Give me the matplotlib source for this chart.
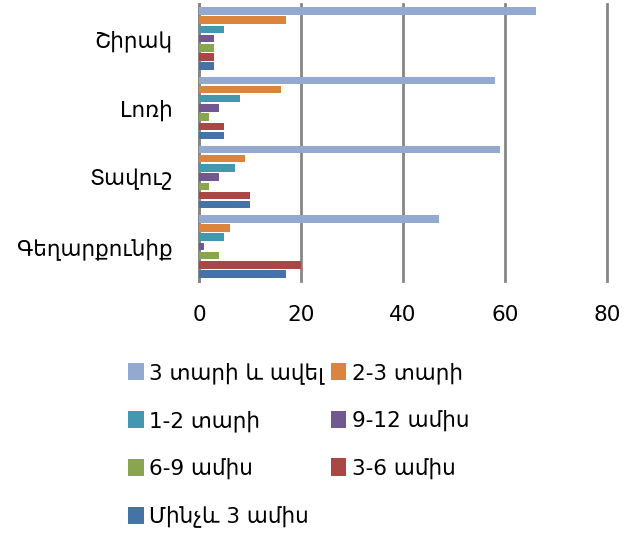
import matplotlib
matplotlib.use("Agg")
import matplotlib.pyplot as plt
import numpy as np
from matplotlib.patches import Patch

plt.rcParams['font.family'] = ['DejaVu Sans']

categories = ["Շիրակ", "Լոռի", "Տավուշ", "Գեղարքունիք"]
series_names = ["3 տարի և ավել", "2-3 տարի", "1-2 տարի", "9-12 ամիս",
                "6-9 ամիս", "3-6 ամիս", "Մինչև 3 ամիս"]
values = {
    "3 տարի և ավել": [66, 58, 59, 47],
    "2-3 տարի": [17, 16, 9, 6],
    "1-2 տարի": [5, 8, 7, 5],
    "9-12 ամիս": [3, 4, 4, 1],
    "6-9 ամիս": [3, 2, 2, 4],
    "3-6 ամիս": [3, 5, 10, 20],
    "Մինչև 3 ամիս": [3, 5, 10, 17],
}
colors = ["#93A9CF", "#DB843D", "#4198AF", "#71588F", "#89A54E", "#AA4643", "#4572A7"]
xticks = [0, 20, 40, 60, 80]

fig = plt.figure(figsize=(6.27, 5.33), dpi=100)
ax = fig.add_axes([199/627, 1-281/533, (607-199)/627, (281-4)/533])

n = len(series_names)
slot = 0.93 / n
yc = np.arange(len(categories))
for i, name in enumerate(series_names):
    offs = -0.465 + slot * (i + 0.5)
    ax.barh(yc + offs, values[name], height=slot * 0.82, color=colors[i], zorder=3)

ax.set_ylim(len(categories) - 0.5, -0.5)
ax.set_xlim(0, 80)
ax.set_xticks(xticks)
ax.set_xticklabels([str(t) for t in xticks], fontsize=15.5)
ax.set_yticks(yc)
ax.set_yticklabels(categories, fontsize=15.5)
ax.tick_params(axis='both', length=0)
ax.tick_params(axis='x', pad=17)
ax.tick_params(axis='y', pad=19)
for s in ['top', 'right', 'bottom']:
    ax.spines[s].set_visible(False)
ax.spines['left'].set_color('#868686')
ax.spines['left'].set_linewidth(2)
ax.grid(axis='x', color='#868686', linewidth=2, zorder=0)
for gl in ax.get_xgridlines():
    gl.set_clip_on(False)
ax.set_axisbelow(True)

handles = [Patch(facecolor=colors[i], label=series_names[i]) for i in range(n)]
order = [0, 2, 4, 6, 1, 3, 5]
fig.legend([handles[i] for i in order], [series_names[i] for i in order],
           loc='upper left', bbox_to_anchor=(128/627, 1-362/533), ncol=2,
           frameon=False, fontsize=15.5, handlelength=0.72, handleheight=0.85,
           handletextpad=0.25, labelspacing=1.22, columnspacing=0.33,
           borderpad=0, borderaxespad=0)

fig.savefig("out.png", dpi=100)
